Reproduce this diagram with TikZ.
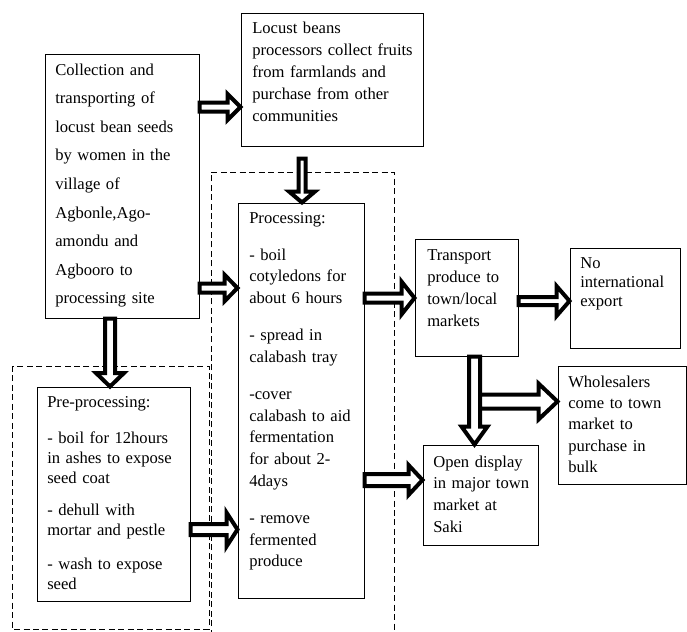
\documentclass[tikz,border=0pt]{standalone}
\usepackage{fontspec}
\setmainfont{Liberation Serif}
\usetikzlibrary{fit,calc}
% right-pointing block arrow: start, tip, shaft half width, head half width, head length
\newcommand\rarr[5]{\draw[barrow] ($#1+(0,#3)$) -- ($#2+(-#5,#3)$) -- ($#2+(-#5,#4)$) -- #2 -- ($#2+(-#5,-#4)$) -- ($#2+(-#5,-#3)$) -- ($#1+(0,-#3)$) -- cycle;}
% down-pointing block arrow
\newcommand\darr[5]{\draw[barrow] ($#1+(#3,0)$) -- ($#2+(#3,-#5)$) -- ($#2+(#4,-#5)$) -- #2 -- ($#2+(-#4,-#5)$) -- ($#2+(-#3,-#5)$) -- ($#1+(-#3,0)$) -- cycle;}
\begin{document}
\begin{tikzpicture}[x=0.75pt,y=-0.75pt,
  frame/.style={draw, line width=0.75pt, inner sep=0pt},
  dashbox/.style={draw, line width=0.75pt, dash pattern=on 4.5pt off 2.6pt},
  barrow/.style={draw, fill=white, line width=3pt, line join=miter},
  txt/.style={anchor=base west, inner sep=0pt, align=left, text width=250pt,
    font=\fontsize{12.45pt}{#1}\selectfont},
  txt/.default=16.3pt]
\useasboundingbox (0,0) rectangle (687,632);
\clip (0,0) rectangle (687,632);

% dashed groups
\draw[dashbox] (12,366) rectangle (209,629);
\draw[dashbox] (211,645) -- (211,172) -- (394,172) -- (394,645);

% boxes
\node[frame, fit={(45,54)(199,318)}] (A) {};
\node[frame, fit={(241,13)(423,146)}] (B) {};
\node[frame, fit={(238,203)(364,598)}] (P) {};
\node[frame, fit={(37,387)(190,601)}] (Pre) {};
\node[frame, fit={(415,239)(518,356)}] (T) {};
\node[frame, fit={(570,248)(680,348)}] (N) {};
\node[frame, fit={(558,366)(686,484)}] (W) {};
\node[frame, fit={(423,445)(538,545)}] (O) {};

% texts
\node[txt=21.45pt] (tA) at (55,75) {Collection and\\transporting of\\locust bean seeds\\by women in the\\village of\\Agbonle,Ago-\\amondu and\\Agbooro to\\processing site};
\node[txt=16.5pt] (tB) at (252,33) {Locust beans\\processors collect fruits\\from farmlands and\\purchase from other\\communities};
\node[txt=16.3pt] (tP) at (249,223) {Processing:\\[11.5pt]- boil\\cotyledons for\\about 6 hours\\[11.5pt]- spread in\\calabash tray\\[11.5pt]-cover\\calabash to aid\\fermentation\\for about 2-\\4days\\[11.5pt]- remove\\fermented\\produce};
\node[txt=15pt] (tPre) at (47,407) {Pre-processing:\\[12pt]- boil for 12hours\\in ashes to expose\\seed coat\\[9pt]- dehull with\\mortar and pestle\\[10.5pt]- wash to expose\\seed};
\node[txt=16.6pt] (tT) at (427,260) {Transport\\produce to\\town/local\\markets};
\node[txt=14.6pt] (tN) at (580,268) {No\\international\\export};
\node[txt=16.1pt] (tW) at (568,387) {Wholesalers\\come to town\\market to\\purchase in\\bulk};
\node[txt=16.3pt] (tO) at (433,467) {Open display\\in major town\\market at\\Saki};

% arrow end points
\coordinate (a1s) at (A.east |- 0,107);   \coordinate (a1t) at (B.west |- a1s);
\coordinate (a2s) at (A.east |- 0,288);   \coordinate (a2t) at (P.west |- a2s);
\coordinate (a3s) at ($(302,0 |- B.south)+(0,12)$); \coordinate (a3t) at (a3s |- P.north);
\coordinate (a4s) at (P.east |- 0,298);   \coordinate (a4t) at (T.west |- a4s);
\coordinate (a5s) at (T.east |- 0,301);   \coordinate (a5t) at (N.west |- a5s);
\coordinate (a6s) at (474.5,0 |- T.south); \coordinate (a6t) at (a6s |- O.north);
\coordinate (a7s) at ($(a6s |- 0,401.5)+(5.5,0)$); \coordinate (a7t) at (W.west |- a7s);
\coordinate (a8s) at (P.east |- 0,480);   \coordinate (a8t) at (O.west |- a8s);
\coordinate (a9s) at (Pre.east |- 0,529.5); \coordinate (a9t) at (P.west |- a9s);
\coordinate (a10s) at (110,0 |- A.south); \coordinate (a10t) at (a10s |- Pre.north);

% block arrows
\rarr{(a1s)}{(a1t)}{4.5}{13}{13}
\rarr{(a2s)}{(a2t)}{4.5}{13.25}{13}
\darr{(a3s)}{(a3t)}{3.5}{13}{11}
\rarr{(a4s)}{(a4t)}{4.5}{16.5}{13}
\rarr{(a5s)}{(a5t)}{4}{15}{13}
\darr{(a6s)}{(a6t)}{5.5}{13}{18}
\rarr{(a7s)}{(a7t)}{7}{18}{19}
\rarr{(a8s)}{(a8t)}{6}{15}{14}
\rarr{(a9s)}{(a9t)}{5.5}{17}{11}
\darr{(a10s)}{(a10t)}{5}{14}{13.5}
\end{tikzpicture}
\end{document}
